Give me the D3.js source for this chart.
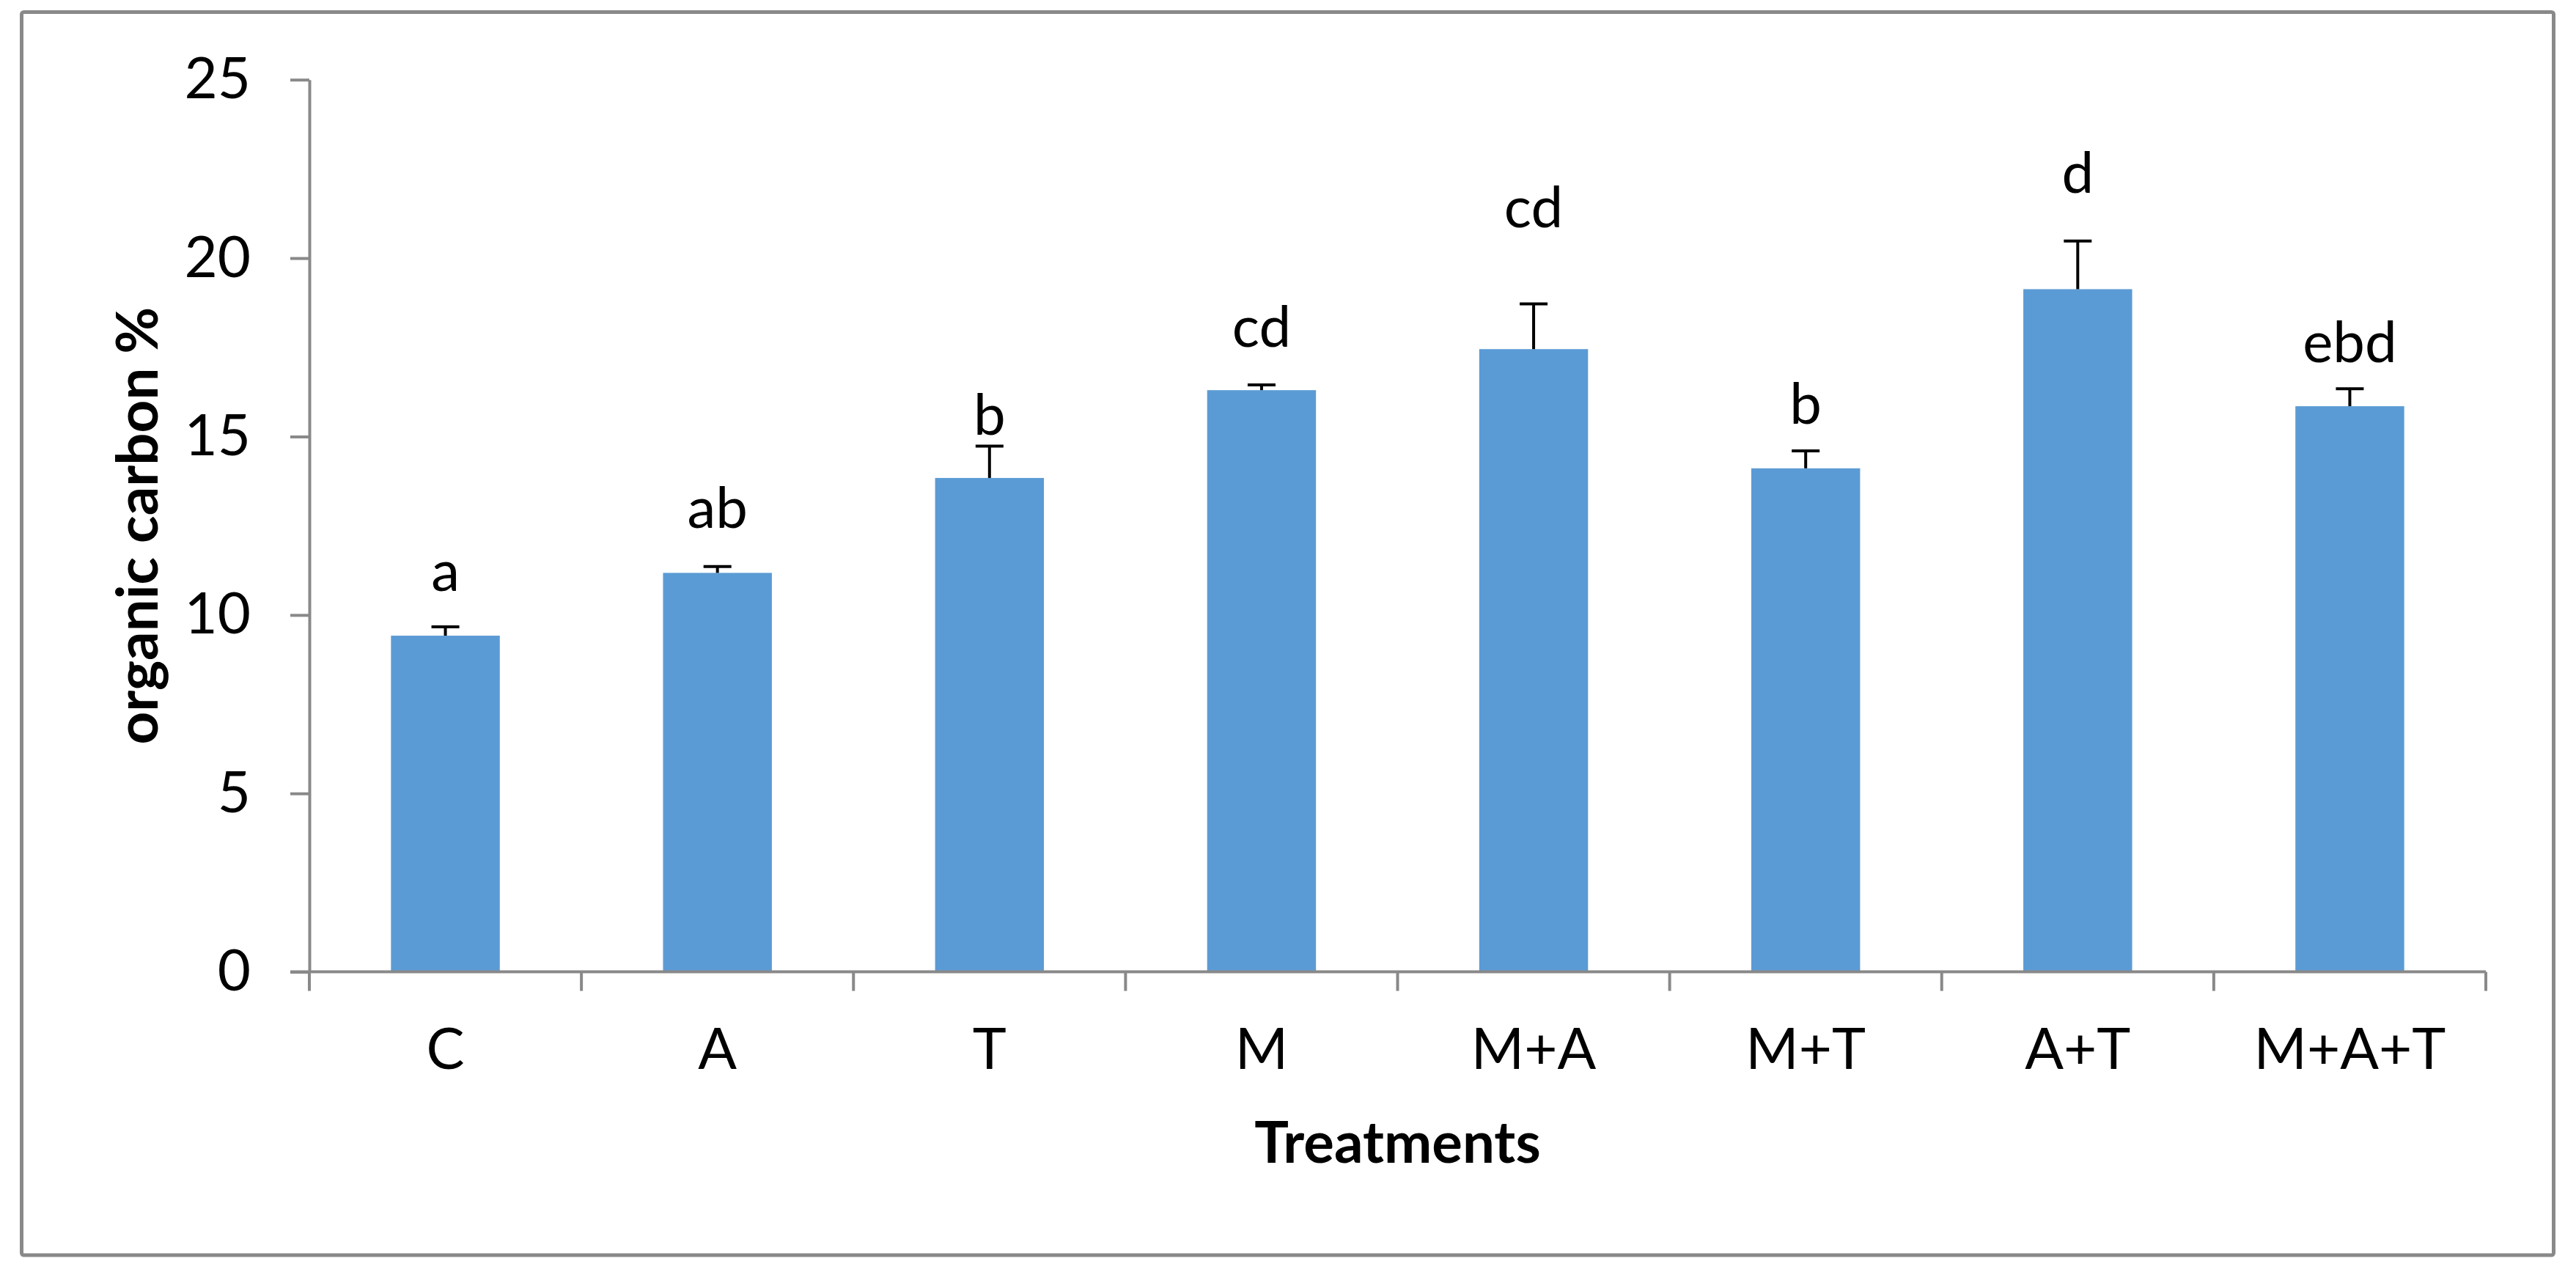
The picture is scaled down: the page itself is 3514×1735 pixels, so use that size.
<!DOCTYPE html>
<html>
<head>
<meta charset="utf-8">
<script src="https://cdn.jsdelivr.net/npm/d3@7"></script>
<style>
    body { margin: 0; background: #ffffff; }
    svg { display: block; }
    text { font-family: Lato, "Open Sans", sans-serif; fill: #000; }
</style>
</head>
<body>
<div id="chart"></div>
<script>
// Data
const categories = ['C', 'A', 'T', 'M', 'M+A', 'M+T', 'A+T', 'M+A+T'];
const means = [9.42, 11.18, 13.84, 16.30, 17.45, 14.11, 19.13, 15.85];
const errors = [0.25, 0.18, 0.89, 0.15, 1.27, 0.49, 1.35, 0.49];
const groupLetters = ['a', 'ab', 'b', 'cd', 'cd', 'b', 'd', 'ebd'];
// height (in axis units) where each letter sits
const letterLevels = [10.68, 12.44, 15.05, 17.51, 20.87, 15.35, 21.82, 17.08];
const yTicks = [0, 5, 10, 15, 20, 25];

const width = 3514, height = 1735;
const plot = { left: 422, right: 3391, top: 108.7, bottom: 1325.6 };
const axisColor = '#898989';
const barColor = '#5B9BD5';
const fontSize = 78;

const svg = d3.select('#chart')
    .append('svg')
    .attr('width', width)
    .attr('height', height)
    .style('background-color', '#ffffff');

// Chart area border
svg.append('rect')
    .attr('x', 29.5)
    .attr('y', 16.5)
    .attr('width', 3483.5 - 29.5)
    .attr('height', 1712 - 16.5)
    .attr('rx', 3)
    .style('fill', 'none')
    .style('stroke', axisColor)
    .style('stroke-width', 5);

const x = d3.scaleBand()
    .domain(categories)
    .range([plot.left, plot.right])
    .paddingInner(0.6)
    .paddingOuter(0.3);

const y = d3.scaleLinear()
    .domain([0, 25])
    .range([plot.bottom, plot.top]);

const rows = categories.map((c, i) => ({
    name: c, mean: means[i], err: errors[i], letter: groupLetters[i], level: letterLevels[i]
}));

// Bars
svg.append('g')
    .selectAll('rect')
    .data(rows)
    .enter()
    .append('rect')
    .attr('x', d => x(d.name))
    .attr('y', d => y(d.mean))
    .attr('width', x.bandwidth())
    .attr('height', d => y(0) - y(d.mean))
    .style('fill', barColor);

// Y axis
const yAxis = svg.append('g')
    .attr('transform', `translate(${plot.left},0)`)
    .call(d3.axisLeft(y).tickValues(yTicks).tickSize(26).tickSizeOuter(0).tickPadding(54));
yAxis.select('.domain').style('stroke', axisColor).style('stroke-width', 4);
yAxis.selectAll('.tick line').style('stroke', axisColor).style('stroke-width', 4);
yAxis.selectAll('.tick text')
    .style('font-family', 'Lato, sans-serif')
    .style('font-size', fontSize + 'px')
    .style('fill', '#000');

// X axis: labels centred on bands, ticks on band boundaries
const xAxis = svg.append('g')
    .attr('transform', `translate(0,${plot.bottom})`)
    .call(d3.axisBottom(x).tickSize(0).tickPadding(77));
xAxis.select('.domain').remove();
xAxis.selectAll('.tick text')
    .style('font-family', 'Lato, sans-serif')
    .style('font-size', fontSize + 'px')
    .style('fill', '#000');

const gap = (x.step() - x.bandwidth()) / 2;
const bounds = categories.map(c => x(c) - gap).concat([x(categories[categories.length - 1]) + x.bandwidth() + gap]);

svg.append('line')
    .attr('x1', plot.left - 26)
    .attr('x2', plot.right)
    .attr('y1', plot.bottom)
    .attr('y2', plot.bottom)
    .style('stroke', axisColor)
    .style('stroke-width', 4);

svg.append('g')
    .selectAll('line')
    .data(bounds)
    .enter()
    .append('line')
    .attr('x1', d => d)
    .attr('x2', d => d)
    .attr('y1', plot.bottom)
    .attr('y2', plot.bottom + 26)
    .style('stroke', axisColor)
    .style('stroke-width', 4);

// Error bars (upper only)
const errG = svg.append('g');
errG.selectAll('.stem')
    .data(rows)
    .enter()
    .append('line')
    .attr('x1', d => x(d.name) + x.bandwidth() / 2)
    .attr('x2', d => x(d.name) + x.bandwidth() / 2)
    .attr('y1', d => y(d.mean))
    .attr('y2', d => y(d.mean + d.err))
    .style('stroke', '#000')
    .style('stroke-width', 4);
errG.selectAll('.cap')
    .data(rows)
    .enter()
    .append('line')
    .attr('x1', d => x(d.name) + x.bandwidth() / 2 - 19)
    .attr('x2', d => x(d.name) + x.bandwidth() / 2 + 19)
    .attr('y1', d => y(d.mean + d.err))
    .attr('y2', d => y(d.mean + d.err))
    .style('stroke', '#000')
    .style('stroke-width', 4);

// Significance letters
svg.append('g')
    .selectAll('text')
    .data(rows)
    .enter()
    .append('text')
    .attr('x', d => x(d.name) + x.bandwidth() / 2)
    .attr('y', d => y(d.level))
    .attr('text-anchor', 'middle')
    .style('font-size', fontSize + 'px')
    .text(d => d.letter);

// Axis titles
svg.append('text')
    .attr('transform', `translate(215,${(plot.top + plot.bottom) / 2}) rotate(-90)`)
    .attr('text-anchor', 'middle')
    .style('font-size', fontSize + 'px')
    .style('font-weight', 'bold')
    .text('organic carbon %');

svg.append('text')
    .attr('x', (plot.left + plot.right) / 2)
    .attr('y', 1586)
    .attr('text-anchor', 'middle')
    .style('font-size', fontSize + 'px')
    .style('font-weight', 'bold')
    .text('Treatments');
</script>
</body>
</html>
